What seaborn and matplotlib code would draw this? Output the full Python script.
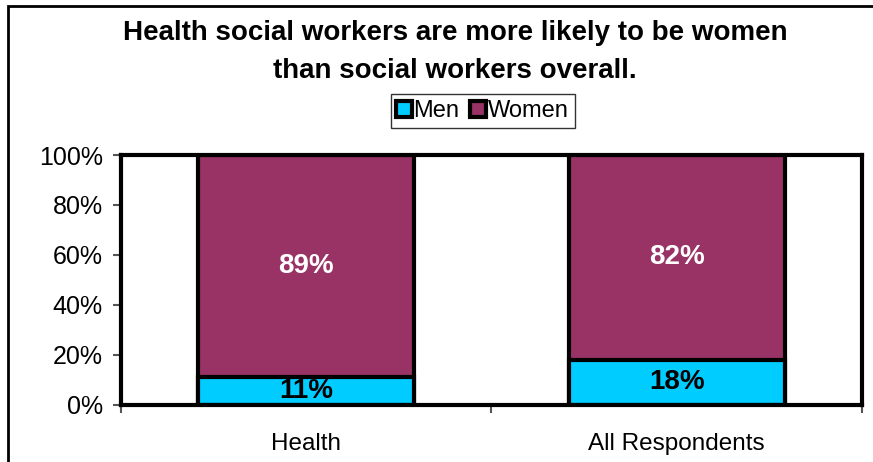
import matplotlib
matplotlib.use("Agg")
import matplotlib.pyplot as plt
import matplotlib.patches as mpatches
from matplotlib.lines import Line2D
from matplotlib.ticker import FixedLocator, PercentFormatter
import numpy as np
import pandas as pd
import seaborn as sns

# chart data
groups = ["Health", "All Respondents"]
men = [11, 18]
women = [89, 82]
series_names = ["Men", "Women"]
title = "Health social workers are more likely to be women\nthan social workers overall."

MEN_COLOR = "#00CCFF"
WOMEN_COLOR = "#993366"

sns.set_theme(style="white")
plt.rcParams["font.family"] = ["Liberation Sans", "DejaVu Sans"]
plt.rcParams["text.color"] = "black"

df = pd.DataFrame({"group": groups, "Men": men, "Women": women})
df["total"] = df["Men"] + df["Women"]

fig = plt.figure(figsize=(8.73, 4.62), dpi=100)
ax = fig.add_axes([0.1386, 0.1234, 0.8488, 0.5411])

bar_kw = dict(width=0.583, edgecolor="black", linewidth=3, saturation=1, ax=ax, zorder=2)
sns.barplot(data=df, x="group", y="total", color=WOMEN_COLOR, **bar_kw)
sns.barplot(data=df, x="group", y="Men", color=MEN_COLOR, **bar_kw)

# segment labels
for i, row in df.iterrows():
    ax.text(i, row["Men"] + row["Women"] / 2, f"{row['Women']}%", ha="center", va="center",
            color="white", fontsize=20, fontweight="bold", zorder=3)
    ax.text(i, row["Men"] / 2, f"{row['Men']}%", ha="center", va="center",
            color="black", fontsize=20, fontweight="bold", zorder=3)

ax.set_xlim(-0.5, 1.5)
ax.set_ylim(0, 100)
ax.yaxis.set_major_locator(FixedLocator(range(0, 101, 20)))
ax.yaxis.set_major_formatter(PercentFormatter(decimals=0))
ax.set_xlabel("")
ax.set_ylabel("")
ax.xaxis.set_minor_locator(FixedLocator([-0.5, 0.5, 1.5]))
ax.tick_params(axis="x", which="major", length=0, labelsize=17.5, pad=20, colors="black")
ax.tick_params(axis="x", which="minor", bottom=True, length=6, width=1.5, color="#555555")
ax.tick_params(axis="y", left=True, length=6, width=1.5, color="#555555", labelsize=18, pad=7,
               labelcolor="black")
for s in ax.spines.values():
    s.set_visible(True)
    s.set_color("black")
    s.set_linewidth(3)
ax.grid(False)

fig.text(0.521, 0.888, title, ha="center", va="center", fontsize=20, fontweight="bold",
         linespacing=1.6, color="black")

handles = [Line2D([], [], marker="s", linestyle="", markersize=12, markerfacecolor=c,
                  markeredgecolor="black", markeredgewidth=3)
           for c in (MEN_COLOR, WOMEN_COLOR)]
leg = fig.legend(handles, series_names, loc="center", bbox_to_anchor=(0.553, 0.760), ncol=2,
                 fontsize=17, frameon=True, fancybox=False, handlelength=0.6, handletextpad=0.1,
                 columnspacing=0.5, borderpad=0.25, borderaxespad=0)
leg.get_frame().set_edgecolor("black")
leg.get_frame().set_linewidth(1)

# outer chart border
fig.patches.append(mpatches.Rectangle((8 / 873, -0.1), 1.2, 456 / 462 + 0.1, transform=fig.transFigure,
                                      fill=False, edgecolor="black", linewidth=2))

fig.savefig("out.png", dpi=100)
